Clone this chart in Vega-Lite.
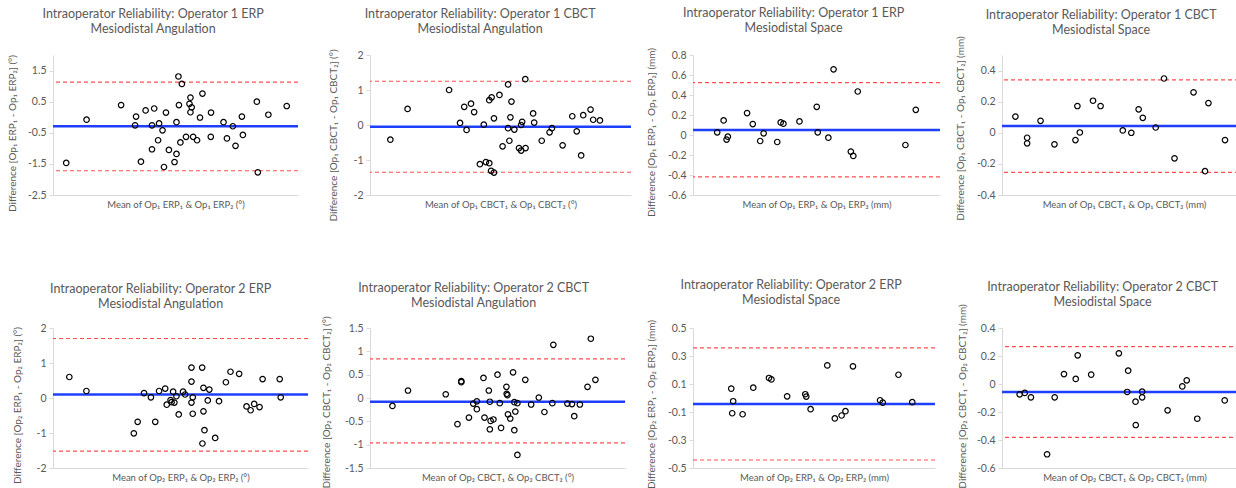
{
  "$schema": "https://vega.github.io/schema/vega-lite/v6.json",
  "autosize": {"type": "none"},
  "padding": {"left": 53, "top": 55, "right": 1183, "bottom": 433},
  "background": "white",
  "columns": 4,
  "align": "none",
  "bounds": "flush",
  "spacing": {"row": 133, "column": 62},
  "config": {
    "view": {"stroke": null},
    "font": "Lato",
    "title": {"font": "Lato", "fontSize": 12.5, "fontWeight": "normal", "color": "#595959", "anchor": "middle", "frame": "bounds", "offset": 19, "lineHeight": 15},
    "axis": {"grid": false, "domainColor": "#d9d9d9", "tickColor": "#d9d9d9", "labelColor": "#595959", "titleColor": "#595959", "labelFont": "Lato", "titleFont": "Lato", "labelFontSize": 10.5, "titleFontSize": 10, "titleFontWeight": "normal", "tickSize": 4, "labelOverlap": false},
    "axisX": {"labels": false, "ticks": false, "titlePadding": 4, "titleFontSize": 9.5},
    "axisY": {"labelPadding": 3, "titleBaseline": "middle", "labelOverlap": false}
  },
  "datasets": {
    "p1": [{"m":5.4,"d":-1.47},{"m":13.7,"d":-0.08},{"m":27.8,"d":0.39},{"m":33.9,"d":0.02},{"m":33.5,"d":-0.26},{"m":37.8,"d":0.22},{"m":35.9,"d":-1.43},{"m":41.3,"d":0.28},{"m":40.4,"d":-0.26},{"m":40.4,"d":-1.03},{"m":43.3,"d":-0.2},{"m":42.9,"d":-0.74},{"m":44.7,"d":-0.42},{"m":46.1,"d":0.15},{"m":45.3,"d":-1.6},{"m":47.3,"d":-1.05},{"m":49.6,"d":-1.44},{"m":50.4,"d":-1.18},{"m":50.4,"d":-0.16},{"m":51.2,"d":1.31},{"m":51.4,"d":0.39},{"m":52.6,"d":1.07},{"m":52.0,"d":-0.81},{"m":54.3,"d":-0.63},{"m":56.1,"d":0.63},{"m":55.7,"d":0.43},{"m":56.6,"d":0.32},{"m":56.1,"d":0.16},{"m":57.2,"d":-0.63},{"m":58.8,"d":-0.74},{"m":60.0,"d":-0.01},{"m":61.0,"d":0.76},{"m":64.5,"d":0.15},{"m":64.4,"d":-0.63},{"m":69.6,"d":-0.16},{"m":71.0,"d":-0.68},{"m":73.4,"d":-0.29},{"m":74.5,"d":-0.92},{"m":77.1,"d":0.02},{"m":77.5,"d":-0.57},{"m":83.2,"d":0.5},{"m":83.6,"d":-1.77},{"m":87.9,"d":0.08},{"m":95.4,"d":0.36}],
    "p1L": [{"k":"mean","d":-0.29},{"k":"upper","d":1.13},{"k":"lower","d":-1.72}],
    "p2": [{"m":7.8,"d":-0.42},{"m":14.4,"d":0.46},{"m":30.3,"d":1.0},{"m":34.5,"d":0.06},{"m":36.1,"d":0.52},{"m":37.0,"d":-0.14},{"m":38.7,"d":0.61},{"m":39.9,"d":0.37},{"m":42.1,"d":-1.12},{"m":43.6,"d":0.01},{"m":44.4,"d":-1.06},{"m":45.7,"d":-1.09},{"m":45.7,"d":0.71},{"m":46.6,"d":0.79},{"m":46.4,"d":-1.31},{"m":47.5,"d":-1.36},{"m":47.5,"d":0.19},{"m":49.6,"d":0.86},{"m":50.8,"d":-0.61},{"m":52.9,"d":1.16},{"m":52.9,"d":-0.09},{"m":53.4,"d":-0.45},{"m":53.8,"d":0.22},{"m":54.2,"d":0.67},{"m":55.3,"d":-0.13},{"m":57.1,"d":-0.66},{"m":57.9,"d":-0.73},{"m":57.9,"d":0.0},{"m":58.3,"d":0.09},{"m":59.5,"d":1.31},{"m":59.6,"d":-0.66},{"m":62.5,"d":0.33},{"m":62.9,"d":0.07},{"m":65.8,"d":-0.45},{"m":68.8,"d":-0.21},{"m":69.7,"d":-0.09},{"m":73.8,"d":-0.58},{"m":77.5,"d":0.25},{"m":79.2,"d":-0.18},{"m":80.9,"d":-0.87},{"m":81.7,"d":0.28},{"m":84.5,"d":0.44},{"m":85.5,"d":0.15},{"m":88.1,"d":0.13}],
    "p2L": [{"k":"mean","d":-0.05},{"k":"upper","d":1.25},{"k":"lower","d":-1.35}],
    "p3": [{"m":9.8,"d":0.027},{"m":12.4,"d":0.146},{"m":13.6,"d":-0.046},{"m":14.1,"d":-0.017},{"m":21.9,"d":0.219},{"m":24.2,"d":0.109},{"m":27.2,"d":-0.06},{"m":28.6,"d":0.017},{"m":34.1,"d":-0.07},{"m":35.5,"d":0.126},{"m":36.6,"d":0.113},{"m":43.1,"d":0.136},{"m":50.1,"d":0.282},{"m":50.5,"d":0.027},{"m":54.8,"d":-0.027},{"m":56.9,"d":0.657},{"m":63.9,"d":-0.166},{"m":64.9,"d":-0.209},{"m":66.7,"d":0.435},{"m":86.0,"d":-0.1},{"m":90.2,"d":0.252}],
    "p3L": [{"k":"mean","d":0.05},{"k":"upper","d":0.523},{"k":"lower","d":-0.418}],
    "p4": [{"m":5.5,"d":0.104},{"m":10.3,"d":-0.032},{"m":10.3,"d":-0.068},{"m":15.8,"d":0.077},{"m":21.5,"d":-0.074},{"m":30.1,"d":-0.047},{"m":30.9,"d":0.172},{"m":31.9,"d":0.002},{"m":37.3,"d":0.206},{"m":40.4,"d":0.172},{"m":49.5,"d":0.015},{"m":53.0,"d":0.0},{"m":56.0,"d":0.151},{"m":57.7,"d":0.096},{"m":63.0,"d":0.034},{"m":66.4,"d":0.349},{"m":70.7,"d":-0.164},{"m":78.5,"d":0.26},{"m":83.2,"d":-0.247},{"m":84.6,"d":0.191},{"m":91.4,"d":-0.047}],
    "p4L": [{"k":"mean","d":0.043},{"k":"upper","d":0.34},{"k":"lower","d":-0.255}],
    "p5": [{"m":6.4,"d":0.6},{"m":13.1,"d":0.2},{"m":31.7,"d":-1.01},{"m":33.2,"d":-0.68},{"m":35.7,"d":0.14},{"m":38.4,"d":0.02},{"m":40.1,"d":-0.68},{"m":41.6,"d":0.2},{"m":44.0,"d":0.27},{"m":44.6,"d":-0.19},{"m":46.1,"d":-0.06},{"m":46.5,"d":-0.12},{"m":47.1,"d":0.18},{"m":47.6,"d":-0.13},{"m":48.4,"d":0.05},{"m":49.3,"d":-0.47},{"m":51.0,"d":0.18},{"m":51.8,"d":0.1},{"m":54.3,"d":0.87},{"m":54.3,"d":0.47},{"m":54.3,"d":-0.13},{"m":54.8,"d":0.02},{"m":54.8,"d":-0.45},{"m":58.5,"d":0.87},{"m":59.0,"d":0.29},{"m":59.0,"d":-0.38},{"m":59.4,"d":-0.92},{"m":58.6,"d":-1.3},{"m":60.7,"d":-0.07},{"m":61.3,"d":0.24},{"m":63.6,"d":-1.14},{"m":65.1,"d":-0.09},{"m":67.8,"d":0.45},{"m":69.6,"d":0.75},{"m":73.0,"d":0.69},{"m":75.9,"d":-0.24},{"m":77.5,"d":-0.35},{"m":78.9,"d":-0.17},{"m":81.0,"d":-0.26},{"m":82.2,"d":0.54},{"m":88.9,"d":0.54},{"m":89.3,"d":0.02}],
    "p5L": [{"k":"mean","d":0.1},{"k":"upper","d":1.7},{"k":"lower","d":-1.52}],
    "p6": [{"m":8.8,"d":-0.17},{"m":14.9,"d":0.16},{"m":29.7,"d":0.08},{"m":34.3,"d":-0.56},{"m":35.8,"d":0.36},{"m":35.8,"d":0.34},{"m":38.8,"d":-0.42},{"m":40.5,"d":-0.12},{"m":41.9,"d":-0.07},{"m":41.9,"d":-0.24},{"m":44.5,"d":0.43},{"m":44.9,"d":-0.42},{"m":46.6,"d":0.16},{"m":47.0,"d":-0.08},{"m":47.3,"d":-0.49},{"m":48.4,"d":-0.46},{"m":47.0,"d":-0.67},{"m":50.0,"d":0.5},{"m":50.9,"d":-0.11},{"m":51.4,"d":-0.64},{"m":53.5,"d":0.24},{"m":53.6,"d":0.09},{"m":53.9,"d":0.06},{"m":54.1,"d":-0.35},{"m":55.0,"d":-0.44},{"m":56.1,"d":0.55},{"m":56.6,"d":-0.09},{"m":57.0,"d":-0.29},{"m":56.6,"d":-0.69},{"m":57.8,"d":-0.11},{"m":57.8,"d":-1.22},{"m":60.9,"d":0.39},{"m":63.2,"d":-0.14},{"m":66.2,"d":0.01},{"m":68.4,"d":-0.3},{"m":71.5,"d":-0.11},{"m":71.9,"d":1.14},{"m":77.4,"d":-0.12},{"m":79.2,"d":-0.13},{"m":80.1,"d":-0.39},{"m":82.3,"d":-0.14},{"m":85.3,"d":0.24},{"m":86.6,"d":1.27},{"m":88.4,"d":0.39}],
    "p6L": [{"k":"mean","d":-0.08},{"k":"upper","d":0.84},{"k":"lower","d":-0.96}],
    "p7": [{"m":15.8,"d":0.067},{"m":16.6,"d":-0.023},{"m":16.2,"d":-0.109},{"m":20.5,"d":-0.116},{"m":24.9,"d":0.074},{"m":31.4,"d":0.143},{"m":32.4,"d":0.133},{"m":38.9,"d":0.012},{"m":46.4,"d":0.027},{"m":46.8,"d":0.01},{"m":48.6,"d":-0.08},{"m":55.5,"d":0.233},{"m":58.6,"d":-0.146},{"m":61.4,"d":-0.125},{"m":63.0,"d":-0.094},{"m":66.1,"d":0.226},{"m":77.3,"d":-0.016},{"m":78.4,"d":-0.033},{"m":84.9,"d":0.166},{"m":90.6,"d":-0.03}],
    "p7L": [{"k":"mean","d":-0.042},{"k":"upper","d":0.358},{"k":"lower","d":-0.443}],
    "p8": [{"m":7.2,"d":-0.074},{"m":9.3,"d":-0.064},{"m":11.8,"d":-0.095},{"m":18.4,"d":-0.502},{"m":21.5,"d":-0.095},{"m":25.3,"d":0.071},{"m":30.1,"d":0.036},{"m":30.9,"d":0.205},{"m":36.4,"d":0.067},{"m":47.7,"d":0.219},{"m":51.1,"d":-0.057},{"m":51.5,"d":0.095},{"m":54.5,"d":-0.126},{"m":54.6,"d":-0.293},{"m":57.2,"d":-0.055},{"m":57.2,"d":-0.095},{"m":67.6,"d":-0.188},{"m":73.6,"d":-0.017},{"m":75.4,"d":0.026},{"m":79.7,"d":-0.248},{"m":90.9,"d":-0.117}],
    "p8L": [{"k":"mean","d":-0.057},{"k":"upper","d":0.267},{"k":"lower","d":-0.381}]
  },
  "concat": [
    {
      "width": 245, "height": 140,
      "title": {"text": ["Intraoperator Reliability: Operator 1 ERP", "Mesiodistal Angulation"], "offset": 19},
      "encoding": {"y": {"field": "d", "type": "quantitative", "scale": {"domain": [-2.5, 2], "nice": false, "zero": false}, "axis": {"title": "Difference [Op₁ ERP₁ - Op₁ ERP₂] (°)", "titleY": 78, "titleX": -41, "labelOverlap": false, "values": [-2.5, -1.5, -0.5, 0.5, 1.5], "labelExpr": "datum.value < 0 ? '-' + format(-datum.value, '~g') : format(datum.value, '~g')"}}},
      "layer": [
        {"data": {"name": "p1L"}, "transform": [{"filter": "datum.k != 'mean'"}], "mark": {"type": "rule", "color": "#ff4f4f", "strokeWidth": 1.2, "strokeDash": [4, 3]}},
        {"data": {"name": "p1L"}, "transform": [{"filter": "datum.k == 'mean'"}], "mark": {"type": "rule", "color": "#1f3fff", "strokeWidth": 2.5}},
        {"data": {"name": "p1"}, "mark": {"type": "point", "shape": "circle", "filled": false, "stroke": "black", "strokeWidth": 1.2, "size": 30, "opacity": 1},
         "encoding": {"x": {"field": "m", "type": "quantitative", "scale": {"domain": [0, 100], "nice": false, "zero": false}, "axis": {"title": "Mean of Op₁ ERP₁ & Op₁ ERP₂ (°)"}}}}
      ]
    },
    {
      "width": 261, "height": 140,
      "title": {"text": ["Intraoperator Reliability: Operator 1 CBCT", "Mesiodistal Angulation"], "offset": 13},
      "encoding": {"y": {"field": "d", "type": "quantitative", "scale": {"domain": [-2, 2], "nice": false, "zero": false}, "axis": {"title": "Difference [Op₁ CBCT₁ - Op₁ CBCT₂] (°)", "titleY": 80, "titleX": -37, "labelOverlap": false, "values": [-2, -1, 0, 1, 2], "labelExpr": "datum.value < 0 ? '-' + format(-datum.value, '~g') : format(datum.value, '~g')"}}},
      "layer": [
        {"data": {"name": "p2L"}, "transform": [{"filter": "datum.k != 'mean'"}], "mark": {"type": "rule", "color": "#ff4f4f", "strokeWidth": 1.2, "strokeDash": [4, 3]}},
        {"data": {"name": "p2L"}, "transform": [{"filter": "datum.k == 'mean'"}], "mark": {"type": "rule", "color": "#1f3fff", "strokeWidth": 2.5}},
        {"data": {"name": "p2"}, "mark": {"type": "point", "shape": "circle", "filled": false, "stroke": "black", "strokeWidth": 1.2, "size": 30, "opacity": 1},
         "encoding": {"x": {"field": "m", "type": "quantitative", "scale": {"domain": [0, 100], "nice": false, "zero": false}, "axis": {"title": "Mean of Op₁ CBCT₁ & Op₁ CBCT₂ (°)"}}}}
      ]
    },
    {
      "width": 247, "height": 140,
      "title": {"text": ["Intraoperator Reliability: Operator 1 ERP", "Mesiodistal Space"], "offset": 13},
      "encoding": {"y": {"field": "d", "type": "quantitative", "scale": {"domain": [-0.6, 0.8], "nice": false, "zero": false}, "axis": {"title": "Difference [Op₁ ERP₁ - Op₁ ERP₂] (mm)", "titleY": 77, "titleX": -42, "labelOverlap": false, "values": [-0.6, -0.4, -0.2, 0, 0.2, 0.4, 0.6, 0.8], "labelExpr": "datum.value < 0 ? '-' + format(-datum.value, '~g') : format(datum.value, '~g')"}}},
      "layer": [
        {"data": {"name": "p3L"}, "transform": [{"filter": "datum.k != 'mean'"}], "mark": {"type": "rule", "color": "#ff4f4f", "strokeWidth": 1.2, "strokeDash": [4, 3]}},
        {"data": {"name": "p3L"}, "transform": [{"filter": "datum.k == 'mean'"}], "mark": {"type": "rule", "color": "#1f3fff", "strokeWidth": 2.5}},
        {"data": {"name": "p3"}, "mark": {"type": "point", "shape": "circle", "filled": false, "stroke": "black", "strokeWidth": 1.2, "size": 30, "opacity": 1},
         "encoding": {"x": {"field": "m", "type": "quantitative", "scale": {"domain": [0, 100], "nice": false, "zero": false}, "axis": {"title": "Mean of Op₁ ERP₁ & Op₁ ERP₂ (mm)"}}}}
      ]
    },
    {
      "width": 244, "height": 140,
      "title": {"text": ["Intraoperator Reliability: Operator 1 CBCT", "Mesiodistal Space"], "offset": -1},
      "encoding": {"y": {"field": "d", "type": "quantitative", "scale": {"domain": [-0.4, 0.5], "nice": false, "zero": false}, "axis": {"title": "Difference [Op₁ CBCT₁ - Op₁ CBCT₂] (mm)", "titleY": 73, "titleX": -42, "labelOverlap": false, "values": [-0.4, -0.2, 0, 0.2, 0.4], "labelExpr": "datum.value < 0 ? '-' + format(-datum.value, '~g') : format(datum.value, '~g')"}}},
      "layer": [
        {"data": {"name": "p4L"}, "transform": [{"filter": "datum.k != 'mean'"}], "mark": {"type": "rule", "color": "#ff4f4f", "strokeWidth": 1.2, "strokeDash": [4, 3]}},
        {"data": {"name": "p4L"}, "transform": [{"filter": "datum.k == 'mean'"}], "mark": {"type": "rule", "color": "#1f3fff", "strokeWidth": 2.5}},
        {"data": {"name": "p4"}, "mark": {"type": "point", "shape": "circle", "filled": false, "stroke": "black", "strokeWidth": 1.2, "size": 30, "opacity": 1},
         "encoding": {"x": {"field": "m", "type": "quantitative", "scale": {"domain": [0, 100], "nice": false, "zero": false}, "axis": {"title": "Mean of Op₁ CBCT₁ & Op₁ CBCT₂ (mm)"}}}}
      ]
    },
    {
      "width": 255, "height": 140,
      "title": {"text": ["Intraoperator Reliability: Operator 2 ERP", "Mesiodistal Angulation"], "offset": 13},
      "encoding": {"y": {"field": "d", "type": "quantitative", "scale": {"domain": [-2, 2], "nice": false, "zero": false}, "axis": {"title": "Difference [Op₂ ERP₁ - Op₂ ERP₂] (°)", "titleY": 77, "titleX": -36, "labelOverlap": false, "values": [-2, -1, 0, 1, 2], "labelExpr": "datum.value < 0 ? '-' + format(-datum.value, '~g') : format(datum.value, '~g')"}}},
      "layer": [
        {"data": {"name": "p5L"}, "transform": [{"filter": "datum.k != 'mean'"}], "mark": {"type": "rule", "color": "#ff4f4f", "strokeWidth": 1.2, "strokeDash": [4, 3]}},
        {"data": {"name": "p5L"}, "transform": [{"filter": "datum.k == 'mean'"}], "mark": {"type": "rule", "color": "#1f3fff", "strokeWidth": 2.5}},
        {"data": {"name": "p5"}, "mark": {"type": "point", "shape": "circle", "filled": false, "stroke": "black", "strokeWidth": 1.2, "size": 30, "opacity": 1},
         "encoding": {"x": {"field": "m", "type": "quantitative", "scale": {"domain": [0, 100], "nice": false, "zero": false}, "axis": {"title": "Mean of Op₂ ERP₁ & Op₂ ERP₂ (°)"}}}}
      ]
    },
    {
      "width": 255, "height": 140,
      "title": {"text": ["Intraoperator Reliability: Operator 2 CBCT", "Mesiodistal Angulation"], "offset": 6},
      "encoding": {"y": {"field": "d", "type": "quantitative", "scale": {"domain": [-1.5, 1.5], "nice": false, "zero": false}, "axis": {"title": "Difference [Op₂ CBCT₁ - Op₂ CBCT₂] (°)", "titleY": 74, "titleX": -44, "labelOverlap": false, "values": [-1.5, -1, -0.5, 0, 0.5, 1, 1.5], "labelExpr": "datum.value < 0 ? '-' + format(-datum.value, '~g') : format(datum.value, '~g')"}}},
      "layer": [
        {"data": {"name": "p6L"}, "transform": [{"filter": "datum.k != 'mean'"}], "mark": {"type": "rule", "color": "#ff4f4f", "strokeWidth": 1.2, "strokeDash": [4, 3]}},
        {"data": {"name": "p6L"}, "transform": [{"filter": "datum.k == 'mean'"}], "mark": {"type": "rule", "color": "#1f3fff", "strokeWidth": 2.5}},
        {"data": {"name": "p6"}, "mark": {"type": "point", "shape": "circle", "filled": false, "stroke": "black", "strokeWidth": 1.2, "size": 30, "opacity": 1},
         "encoding": {"x": {"field": "m", "type": "quantitative", "scale": {"domain": [0, 100], "nice": false, "zero": false}, "axis": {"title": "Mean of Op₂ CBCT₁ & Op₂ CBCT₂ (°)"}}}}
      ]
    },
    {
      "width": 242, "height": 140,
      "title": {"text": ["Intraoperator Reliability: Operator 2 ERP", "Mesiodistal Space"], "offset": 13},
      "encoding": {"y": {"field": "d", "type": "quantitative", "scale": {"domain": [-0.5, 0.5], "nice": false, "zero": false}, "axis": {"title": "Difference [Op₂ ERP₁ - Op₂ ERP₂] (mm)", "titleY": 76, "titleX": -42, "labelOverlap": false, "values": [-0.5, -0.3, -0.1, 0.1, 0.3, 0.5], "labelExpr": "datum.value < 0 ? '-' + format(-datum.value, '~g') : format(datum.value, '~g')"}}},
      "layer": [
        {"data": {"name": "p7L"}, "transform": [{"filter": "datum.k != 'mean'"}], "mark": {"type": "rule", "color": "#ff4f4f", "strokeWidth": 1.2, "strokeDash": [4, 3]}},
        {"data": {"name": "p7L"}, "transform": [{"filter": "datum.k == 'mean'"}], "mark": {"type": "rule", "color": "#1f3fff", "strokeWidth": 2.5}},
        {"data": {"name": "p7"}, "mark": {"type": "point", "shape": "circle", "filled": false, "stroke": "black", "strokeWidth": 1.2, "size": 30, "opacity": 1},
         "encoding": {"x": {"field": "m", "type": "quantitative", "scale": {"domain": [0, 100], "nice": false, "zero": false}, "axis": {"title": "Mean of Op₂ ERP₁ & Op₂ ERP₂ (mm)"}}}}
      ]
    },
    {
      "width": 245, "height": 140,
      "title": {"text": ["Intraoperator Reliability: Operator 2 CBCT", "Mesiodistal Space"], "offset": -5},
      "encoding": {"y": {"field": "d", "type": "quantitative", "scale": {"domain": [-0.6, 0.4], "nice": false, "zero": false}, "axis": {"title": "Difference [Op₂ CBCT₁ - Op₂ CBCT₂] (mm)", "titleY": 68, "titleX": -40, "labelOverlap": false, "values": [-0.6, -0.4, -0.2, 0, 0.2, 0.4], "labelExpr": "datum.value < 0 ? '-' + format(-datum.value, '~g') : format(datum.value, '~g')"}}},
      "layer": [
        {"data": {"name": "p8L"}, "transform": [{"filter": "datum.k != 'mean'"}], "mark": {"type": "rule", "color": "#ff4f4f", "strokeWidth": 1.2, "strokeDash": [4, 3]}},
        {"data": {"name": "p8L"}, "transform": [{"filter": "datum.k == 'mean'"}], "mark": {"type": "rule", "color": "#1f3fff", "strokeWidth": 2.5}},
        {"data": {"name": "p8"}, "mark": {"type": "point", "shape": "circle", "filled": false, "stroke": "black", "strokeWidth": 1.2, "size": 30, "opacity": 1},
         "encoding": {"x": {"field": "m", "type": "quantitative", "scale": {"domain": [0, 100], "nice": false, "zero": false}, "axis": {"title": "Mean of Op₂ CBCT₁ & Op₂ CBCT₂ (mm)"}}}}
      ]
    }
  ]
}
